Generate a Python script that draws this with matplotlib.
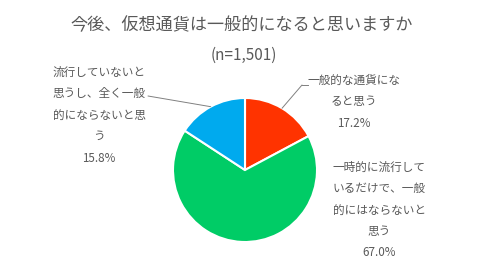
import matplotlib
matplotlib.use("Agg")
import matplotlib.pyplot as plt
import numpy as np
from matplotlib.lines import Line2D

# --- Data ---
title = "今後、仮想通貨は一般的になると思いますか"
subtitle = "(n=1,501)"
categories = [
    "一般的な通貨にな\nると思う",
    "一時的に流行して\nいるだけで、一般\n的にはならないと\n思う",
    "流行していないと\n思うし、全く一般\n的にならないと思\nう",
]
values = [17.2, 67.0, 15.8]
colors = ["#FF3300", "#00CC66", "#00AAEE"]

# --- Layout (pixels of a 490x268 canvas) ---
W, H = 490, 268
CX, CY, R = 245, 170, 72
TEXT_COLOR = "#595959"
plt.rcParams["font.family"] = ["Noto Sans CJK JP", "DejaVu Sans"]


def fx(px):
    return px / W


def fy(py):
    return 1 - py / H


fig = plt.figure(figsize=(W / 100, H / 100), dpi=100)
ax = fig.add_axes([fx(CX - R), fy(CY + R), 2 * R / W, 2 * R / H])
wedges, _ = ax.pie(values, colors=colors, startangle=90, counterclock=False,
                   radius=1, wedgeprops=dict(edgecolor="white", linewidth=1.5))
ax.set_xlim(-1, 1)
ax.set_ylim(-1, 1)
ax.set_aspect("equal")
ax.axis("off")

fig.text(fx(242), fy(25), title, ha="center", va="center",
         fontsize=12.3, color=TEXT_COLOR)
fig.text(fx(244), fy(55), subtitle, ha="center", va="center",
         fontsize=11, color=TEXT_COLOR)

# label anchor points (center of text block) and leader line ends
label_pos = [(354, 102), (379, 210), (99, 115)]
leader_end = [(302, 85), None, (148, 96)]

for w, cat, v, pos, end in zip(wedges, categories, values, label_pos, leader_end):
    fig.text(fx(pos[0]), fy(pos[1]), f"{cat}\n{v:.1f}%", ha="center", va="center",
             fontsize=8.4, color=TEXT_COLOR, linespacing=1.85)
    if end is None:
        continue
    mid = np.deg2rad((w.theta1 + w.theta2) / 2)
    ax.annotate("", xy=(np.cos(mid), np.sin(mid)), xycoords="data",
                xytext=(fx(end[0]), fy(end[1])), textcoords="figure fraction",
                arrowprops=dict(arrowstyle="-", color="#808080", lw=0.7,
                                shrinkA=0, shrinkB=0))

# short horizontal tick on the top-right leader
fig.add_artist(Line2D([fx(302), fx(308)], [fy(85), fy(85)], color="#808080",
                      lw=0.7, transform=fig.transFigure))

fig.savefig("out.png", dpi=100, facecolor="white")
